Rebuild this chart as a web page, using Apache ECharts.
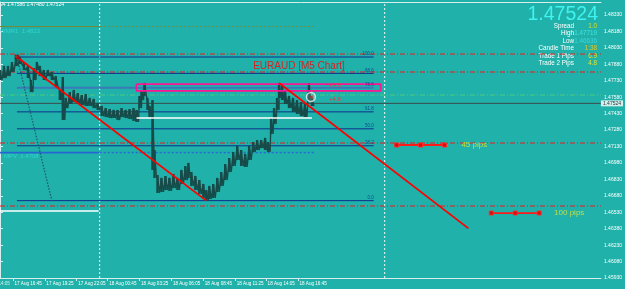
<!DOCTYPE html>
<html><head><meta charset="utf-8">
<script src="https://cdn.jsdelivr.net/npm/echarts@6/dist/echarts.min.js"></script>
<style>html,body{margin:0;padding:0;background:#20b2aa;overflow:hidden}#c{width:625px;height:289px}</style>
</head><body><div id="c"></div>
<script>
// ---------------- data ----------------
const headerText = '94 1.47586 1.47480 1.47524';
const chartTitle = 'EURAUD [M5 Chart]';
const lastPrice = 1.47524;
const yMin = 1.4593, yMax = 1.48449, yStep = 0.0015;
const xMax = 603;
const timeTickBars = [-19, 13, 45, 77, 108, 140, 172, 204, 236, 267, 299];
const timeTickLabels = ['17 Aug 14:05','17 Aug 16:45','17 Aug 19:25','17 Aug 22:05','18 Aug 00:45','18 Aug 03:25','18 Aug 06:05','18 Aug 08:45','18 Aug 11:25','18 Aug 14:05','18 Aug 16:45'];
const daySeparatorBars = [100, 386];

const sampleBars = [0,4,8,12,16,20,24,28,31,34,37,40,44,48,52,56,60,63,66,70,74,78,82,86,90,94,98,102,106,110,114,118,122,126,130,134,137,140,142,145,148,150,153,155,158,162,166,170,174,178,182,186,189,192,196,200,204,207,210,214,218,222,226,230,234,238,242,246,250,254,258,262,266,269,272,275,278,280,283,286,290,294,298,302,306,310,313];
const highs = [1.47828,1.47865,1.47865,1.47901,1.47938,1.47947,1.47901,1.47865,1.47737,1.47846,
1.47901,1.47865,1.47828,1.47828,1.47810,1.47773,1.47646,1.47764,1.47573,1.47627,
1.47646,1.47618,1.47600,1.47609,1.47573,1.47564,1.47527,1.47500,1.47481,1.47472,
1.47463,1.47463,1.47481,1.47463,1.47472,1.47481,1.47463,1.47591,1.47646,1.47710,
1.47573,1.47500,1.47554,1.47098,1.46870,1.46843,1.46861,1.46843,1.46879,1.46843,
1.46916,1.46952,1.46980,1.46897,1.46861,1.46824,1.46788,1.46733,1.46770,1.46788,
1.46843,1.46897,1.46970,1.47025,1.47080,1.47135,1.47098,1.47062,1.47135,1.47171,
1.47189,1.47189,1.47208,1.47171,1.47390,1.47481,1.47573,1.47710,1.47682,1.47646,
1.47591,1.47573,1.47554,1.47536,1.47518,1.47710,1.47573];
const lows = [1.47737,1.47755,1.47773,1.47810,1.47865,1.47883,1.47828,1.47755,1.47627,1.47737,
1.47828,1.47773,1.47737,1.47773,1.47737,1.47682,1.47554,1.47372,1.47481,1.47518,
1.47536,1.47518,1.47509,1.47500,1.47500,1.47481,1.47463,1.47408,1.47399,1.47390,
1.47390,1.47372,1.47399,1.47390,1.47381,1.47363,1.47354,1.47481,1.47554,1.47591,
1.47463,1.47399,1.46916,1.46843,1.46706,1.46715,1.46733,1.46724,1.46751,1.46733,
1.46788,1.46824,1.46843,1.46770,1.46733,1.46697,1.46660,1.46636,1.46651,1.46660,
1.46715,1.46770,1.46824,1.46897,1.46952,1.47007,1.46952,1.46943,1.47007,1.47080,
1.47098,1.47116,1.47098,1.47080,1.47244,1.47335,1.47463,1.47573,1.47554,1.47518,
1.47481,1.47445,1.47427,1.47408,1.47399,1.47536,1.47500];

const redLevels = [1.47974, 1.47810, 1.47162, 1.46587];
const greenLevel = 1.47600;
const wmr1 = 1.48225, mpv = 1.47075;
const pivotSplitBar = 100, pivotEndBar = 315;
const whiteLevelA = {from:0, to:99, price:1.46542};
const whiteLevelB = {from:137, to:313, price:1.47390};
const fibHigh = 1.47947, fibLow = 1.46636;
const fibLevels = [0, 38.2, 50, 61.8, 78.6, 88.6, 100];
const fibStartBar = 17, fibEndBar = 375, fibAnchor2Bar = 52;
const trend1 = [[17, 1.47947], [207, 1.46636]];
const trend2 = [[280, 1.47710], [470, 1.46383]];
const zone = {from:137, to:382, top:1.47700, bottom:1.47637};
const tradeLabels = [{bar:336, price:1.47691, text:'+6.9'}, {bar:336, price:1.47559, text:'+4.8'}];
const tradeIcon = [312, 1.47582];
const titlePoint = [300, 1.47865];
const pipRulers = [
  {bars:[398,422,446], price:1.47144, text:'45 pips', textBar:463},
  {bars:[493,517,541], price:1.46523, text:'100 pips', textBar:556}
];
const infoLabels = ['Spread','High','Low','Candle Time','Trade 1 Pips','Trade 2 Pips'];
const infoValues = ['1.0','1.47719','1.46636','1:38','6.9','4.8'];

// ---------------- styles ----------------
const FONT = '"Liberation Sans", Arial, sans-serif';
const PRICE = '#164b49';
const FIBC = '#0e2f8c';
const infoValueColors = ['#e2dc22','#44e2e2','#3ed4d8','#e8c422','#e4e02c','#e4e02c'];
const DASHDOT = [5,2,1,2];

function seg(pts, color, width, type, z) {
  return {type:'line', data:pts, symbol:'none', silent:true, animation:false, z:z||3,
    lineStyle:{color:color, width:width, type:type||'solid'}};
}
function texts(items, z) {
  return {type:'scatter', symbolSize:0, silent:true, clip:false, animation:false, z:z||12,
    data: items.map(it => ({value:it.value, label:Object.assign({show:true, formatter:it.text, fontFamily:FONT}, it.style)}))};
}

const series = [];

// full-width levels and day separators
redLevels.forEach(v=>series.push(seg([[0,v],[xMax,v]], '#e41e1e', 1, DASHDOT, 2)));
series.push(seg([[0,greenLevel],[xMax,greenLevel]], '#4acb7e', 1, DASHDOT, 2));
daySeparatorBars.forEach(b=>series.push(seg([[b,yMin],[b,yMax]], '#eef8f8', 1, [2,2], 2)));
series.push(seg([[0,lastPrice],[xMax,lastPrice]], '#3a4c4c', 1, 'solid', 2));

// pivot lines
series.push(seg([[0,wmr1],[pivotSplitBar,wmr1]], '#75893a', 1));
series.push(seg([[pivotSplitBar,wmr1],[pivotEndBar,wmr1]], '#75893a', 1, [2,2]));
series.push(seg([[0,mpv],[pivotSplitBar,mpv]], '#2566d4', 1.8));
series.push(seg([[pivotSplitBar,mpv],[pivotEndBar,mpv]], '#2566d4', 1.5, [2,2]));
series.push(seg([[whiteLevelA.from,whiteLevelA.price],[whiteLevelA.to,whiteLevelA.price]], '#ffffff', 1.6));

// fibonacci
fibLevels.forEach(l=>{
  const p = fibLow + (fibHigh-fibLow)*l/100;
  const is786 = l === 78.6;
  series.push(seg([[fibStartBar,p],[fibEndBar,p]], is786 ? '#3a7ab6' : FIBC, is786 ? 2 : 1));
});
series.push(texts(fibLevels.map(l=>({value:[fibEndBar, fibLow + (fibHigh-fibLow)*l/100], text:l.toFixed(1),
  style:{position:'top', align:'right', distance:0.5, color:FIBC, fontSize:4.5}}))));
series.push(seg([[fibStartBar,fibHigh],[fibAnchor2Bar,fibLow]], '#1d5a70', 1.3, [1.5,1.5], 3));

// price: bars + zigzag
series.push({
  type:'custom', silent:true, animation:false, z:4,
  data: sampleBars.map((b,i)=>[b, highs[i], lows[i]]),
  renderItem: function(params, api){
    const a = api.coord([api.value(0), api.value(1)]);
    const b = api.coord([api.value(0), api.value(2)]);
    return {type:'rect', shape:{x:a[0]-1.2, y:a[1], width:2.4, height:Math.max(1,b[1]-a[1])}, style:{fill:PRICE}};
  }
});
const zig = [];
sampleBars.forEach((b,i)=>{ zig.push([b, highs[i]]); zig.push([b+2, lows[i]]); });
series.push({type:'line', data:zig, symbol:'none', silent:true, animation:false, z:4, lineStyle:{color:PRICE, width:1.4}});

series.push(seg([[whiteLevelB.from,whiteLevelB.price],[whiteLevelB.to,whiteLevelB.price]], '#ffffff', 1.6, 'solid', 5));

// trend lines
series.push(seg(trend1, '#ff0000', 1.8, 'solid', 7));
series.push(seg(trend2, '#ff0000', 1.8, 'solid', 7));
series.push({type:'scatter', silent:true, animation:false, z:8, data:[trend1[0]], symbol:'rect', symbolSize:4,
  itemStyle:{color:'#c81010', borderColor:'#300', borderWidth:0.5}});

// zone rectangle
series.push(seg([[zone.from,zone.top],[zone.to,zone.top],[zone.to,zone.bottom],[zone.from,zone.bottom],[zone.from,zone.top]], '#ff1493', 1.8, 'solid', 6));

// pip rulers
pipRulers.forEach(r=>{
  series.push({type:'line', data:r.bars.map(b=>[b,r.price]), silent:true, animation:false, z:7,
    symbol:'rect', symbolSize:4, showSymbol:true,
    itemStyle:{color:'#d01010', borderColor:'#ff2a2a', borderWidth:1}, lineStyle:{color:'#ff1a1a', width:1.8}});
});
series.push(texts(pipRulers.map(r=>({value:[r.textBar, r.price], text:r.text,
  style:{position:'right', distance:0, color:'#e6e62e', fontSize:8}}))));

// trade icon
series.push({type:'scatter', silent:true, animation:false, z:9, data:[tradeIcon], symbol:'circle', symbolSize:9,
  itemStyle:{color:'rgba(255,255,255,0.2)', borderColor:'#f4f4f4', borderWidth:1.4}});
series.push({type:'scatter', silent:true, animation:false, z:10, data:[tradeIcon], symbol:'triangle', symbolSize:3.5, symbolRotate:90,
  itemStyle:{color:'#e01818'}});

// texts
series.push(texts([
  {value:titlePoint, text:chartTitle, style:{position:'inside', color:'#ff0000', fontSize:10}},
  ...tradeLabels.map(t=>({value:[t.bar,t.price], text:t.text, style:{position:'inside', color:'#ff2a2a', fontSize:6}})),
  {value:[0,wmr1], text:'WMR1  ' + wmr1.toFixed(4), style:{position:'right', distance:0, offset:[0,4.5], color:'#34dcdc', fontSize:6}},
  {value:[0,mpv], text:'MPV  ' + mpv.toFixed(4), style:{position:'right', distance:4, offset:[0,3.5], color:'#34dcdc', fontSize:6}},
  {value:[timeTickBars[0], yMin], text:timeTickLabels[0], style:{position:'right', distance:1.5, offset:[0,6], color:'#ffffff', fontSize:4.6}},
  {value:[xMax, lastPrice], text:lastPrice.toFixed(5), style:{position:'right', distance:0, color:'#000000', backgroundColor:'#ffffff', fontSize:5, padding:[1,2,0,2]}}
], 20));

const graphic = [
  {type:'text', x:0, y:5, silent:true, style:{text:headerText, fill:'#ffffff', font:'5px ' + FONT, textAlign:'left', textVerticalAlign:'middle', align:'left', verticalAlign:'middle'}},
  {type:'text', x:598, y:14.5, silent:true, style:{text:lastPrice.toFixed(5), fill:'#3ff3f0', font:'19.5px ' + FONT, textAlign:'right', textVerticalAlign:'middle', align:'right', verticalAlign:'middle'}}
];
infoLabels.forEach((t,i)=>{
  const y = 26.3 + i*7.4;
  graphic.push({type:'text', x:574, y:y, silent:true, style:{text:t, fill:'#ffffff', font:'6.3px ' + FONT, textAlign:'right', textVerticalAlign:'middle', align:'right', verticalAlign:'middle'}});
  graphic.push({type:'text', x:597, y:y, silent:true, style:{text:infoValues[i], fill:infoValueColors[i], font:'6.3px ' + FONT, textAlign:'right', textVerticalAlign:'middle', align:'right', verticalAlign:'middle'}});
});

const option = {
  animation:false,
  backgroundColor:'#20b2aa',
  grid:{left:0, right:22, top:2, bottom:11, containLabel:false},
  xAxis:[{
    type:'value', min:0, max:xMax, position:'bottom',
    axisLine:{show:true, lineStyle:{color:'#d6eeee', width:1}},
    axisTick:{show:true, customValues:timeTickBars.slice(1), length:3, lineStyle:{color:'#d6eeee'}},
    axisLabel:{show:true, customValues:timeTickBars.slice(1), formatter:v=>timeTickLabels[timeTickBars.indexOf(v)] || '',
      color:'#ffffff', fontSize:4.6, fontFamily:FONT, align:'left', margin:3, padding:[0,0,0,1.5]},
    splitLine:{show:false}
  },{
    type:'value', min:0, max:xMax, position:'top',
    axisLine:{show:true, lineStyle:{color:'#d6eeee', width:1}}, axisTick:{show:false}, axisLabel:{show:false}, splitLine:{show:false}
  }],
  yAxis:{
    type:'value', position:'right', min:yMin, max:yMax, interval:yStep, scale:true,
    axisLine:{show:true, lineStyle:{color:'#d6eeee', width:1}},
    axisTick:{show:true, length:3, lineStyle:{color:'#d6eeee'}},
    axisLabel:{show:true, formatter:v=>v.toFixed(5), color:'#ffffff', fontSize:5, fontFamily:FONT, margin:3, showMaxLabel:false},
    splitLine:{show:false}
  },
  graphic: graphic,
  series: series
};
const chart = echarts.init(document.getElementById('c'), null, {renderer:'canvas', width:625, height:289});
chart.setOption(option);
</script></body></html>
